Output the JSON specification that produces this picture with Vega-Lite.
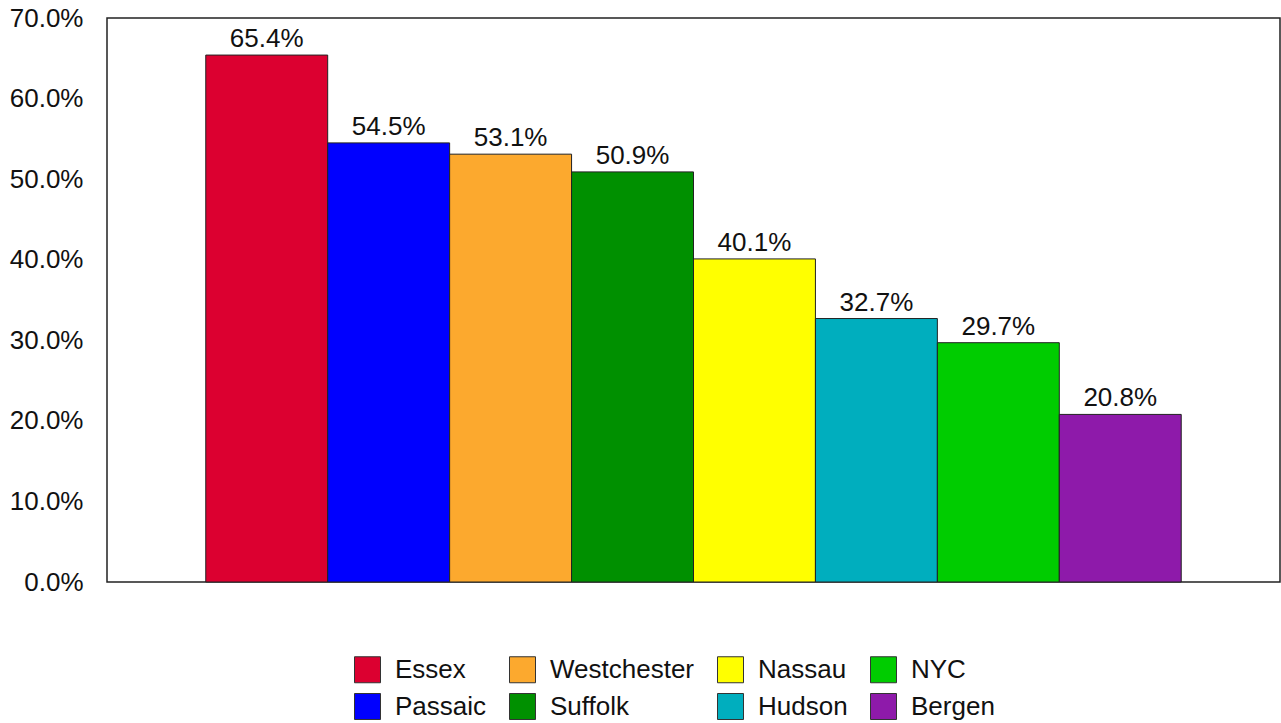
{
  "$schema": "https://vega.github.io/schema/vega-lite/v6.json",
  "width": 1173,
  "height": 564,
  "autosize": {"type": "none"},
  "padding": {"left": 107, "top": 18, "right": 1, "bottom": 141},
  "background": "white",
  "config": {
    "font": "Liberation Sans",
    "view": {"stroke": "#222222", "strokeWidth": 1.5}
  },
  "data": {
    "values": [
      {"county": "Essex", "pct": 0.654},
      {"county": "Passaic", "pct": 0.545},
      {"county": "Westchester", "pct": 0.531},
      {"county": "Suffolk", "pct": 0.509},
      {"county": "Nassau", "pct": 0.401},
      {"county": "Hudson", "pct": 0.327},
      {"county": "NYC", "pct": 0.297},
      {"county": "Bergen", "pct": 0.208}
    ]
  },
  "encoding": {
    "x": {
      "field": "county",
      "type": "nominal",
      "sort": ["Essex", "Passaic", "Westchester", "Suffolk", "Nassau", "Hudson", "NYC", "Bergen"],
      "scale": {"paddingInner": 0, "paddingOuter": 0.81},
      "axis": null
    },
    "y": {
      "field": "pct",
      "type": "quantitative",
      "scale": {"domain": [0, 0.7], "nice": false},
      "axis": {
        "values": [0, 0.1, 0.2, 0.3, 0.4, 0.5, 0.6, 0.7],
        "format": ".1%",
        "title": null,
        "grid": false,
        "ticks": false,
        "domain": false,
        "labelFontSize": 26,
        "labelColor": "#111111",
        "labelPadding": 24,
        "labelFont": "Liberation Sans"
      }
    }
  },
  "layer": [
    {
      "mark": {"type": "bar", "stroke": "#222222", "strokeWidth": 1},
      "encoding": {
        "color": {
          "field": "county",
          "type": "nominal",
          "scale": {
            "domain": ["Essex", "Westchester", "Nassau", "NYC", "Passaic", "Suffolk", "Hudson", "Bergen"],
            "range": ["#DC0030", "#FCA92E", "#FFFF00", "#00CC00", "#0000FF", "#009000", "#00AEBE", "#8E1AAA"]
          },
          "legend": {
            "orient": "none",
            "legendX": 247,
            "legendY": 638,
            "direction": "horizontal",
            "columns": 4,
            "title": null,
            "symbolType": "square",
            "symbolSize": 676,
            "symbolStrokeColor": "#333333",
            "symbolStrokeWidth": 1,
            "symbolOpacity": 1,
            "labelFontSize": 26,
            "labelColor": "#111111",
            "labelFont": "Liberation Sans",
            "labelOffset": 14,
            "columnPadding": 20,
            "rowPadding": 6,
            "labelLimit": 300
          }
        }
      }
    },
    {
      "mark": {"type": "text", "baseline": "bottom", "dy": -3, "fontSize": 26, "color": "#111111", "font": "Liberation Sans"},
      "encoding": {
        "text": {"field": "pct", "type": "quantitative", "format": ".1%"}
      }
    }
  ]
}
